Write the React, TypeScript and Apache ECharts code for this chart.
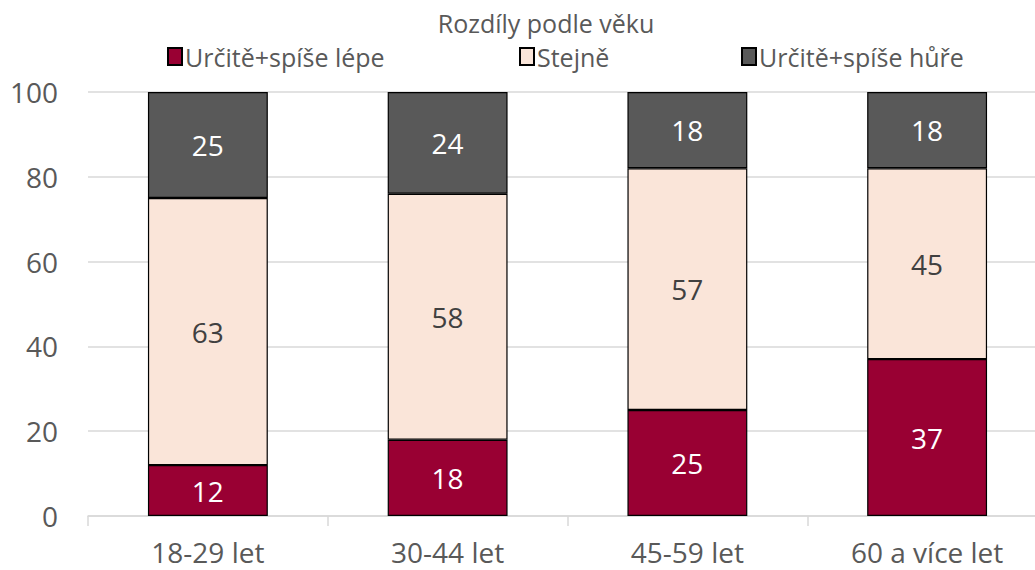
import React, { useEffect, useRef } from "react";
import * as echarts from "echarts";

const categories = ["18-29 let", "30-44 let", "45-59 let", "60 a více let"];
const better = [12, 18, 25, 37];
const same = [63, 58, 57, 45];
const worse = [25, 24, 18, 18];
const seriesNames = ["Určitě+spíše lépe", "Stejně", "Určitě+spíše hůře"];
const titleText = "Rozdíly podle věku";

const FONT = "'Open Sans', 'Noto Sans', sans-serif";

export default function App() {
  const ref = useRef<HTMLDivElement>(null);
  useEffect(() => {
    if (!ref.current) return;
    const chart = echarts.init(ref.current, null, { renderer: "svg" });
    const colors = ["#990033", "#FAE5D9", "#595959"];
    const labelColors = ["#ffffff", "#404040", "#ffffff"];
    const data = [better, same, worse];
    const legendLefts = [162, 514, 736];
    chart.setOption({
      animation: false,
      title: {
        text: titleText,
        left: 541,
        textAlign: "center",
        top: 5,
        textStyle: { fontFamily: FONT, fontSize: 25, fontWeight: "normal", color: "#595959" },
      },
      legend: seriesNames.map((n, i) => ({
        data: [n],
        left: legendLefts[i],
        top: 39,
        itemWidth: 14,
        itemHeight: 17,
        itemGap: 5,
        icon: "rect",
        textStyle: { fontFamily: FONT, fontSize: 25, color: "#595959", padding: [0, 0, 0, -2] },
      })),
      grid: { left: 88, right: 0, top: 92, bottom: 54 },
      xAxis: {
        type: "category",
        data: categories,
        axisLine: { lineStyle: { color: "#d9d9d9", width: 1.5 } },
        axisTick: { show: true, length: 10, lineStyle: { color: "#d9d9d9", width: 1.5 } },
        axisLabel: { fontFamily: FONT, fontSize: 28, color: "#595959", margin: 22 },
      },
      yAxis: {
        type: "value",
        min: 0,
        max: 100,
        interval: 20,
        axisLine: { show: false },
        axisTick: { show: false },
        splitLine: { lineStyle: { color: "#d9d9d9", width: 1.5 } },
        axisLabel: { fontFamily: FONT, fontSize: 28, color: "#595959", margin: 30 },
      },
      series: seriesNames.map((n, i) => ({
        name: n,
        type: "bar",
        stack: "total",
        barWidth: "50%",
        data: data[i],
        itemStyle: { color: colors[i], borderColor: "#000000", borderWidth: 1.2 },
        label: {
          show: true,
          position: "inside",
          fontFamily: FONT,
          fontSize: 28,
          color: labelColors[i],
        },
      })),
    });
    return () => chart.dispose();
  }, []);
  return (
    <div style={{ position: "absolute", left: 0, top: 0, width: 1035, height: 570, overflow: "hidden" }}>
      <div ref={ref} style={{ width: 1047, height: 570 }} />
    </div>
  );
}
